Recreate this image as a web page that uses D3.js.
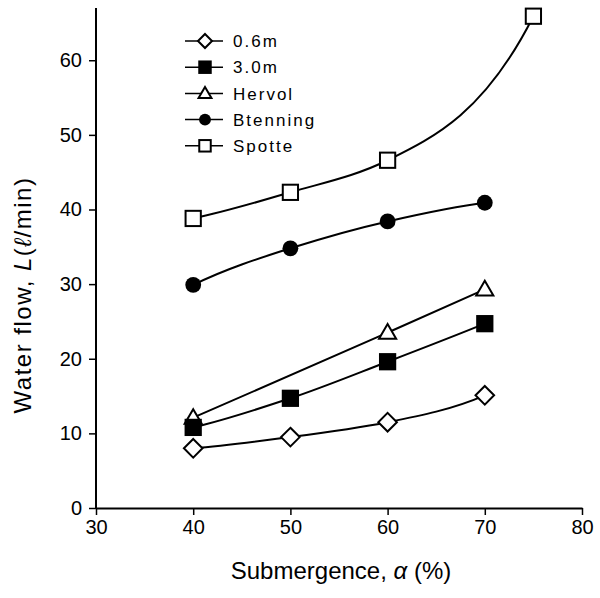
<!DOCTYPE html>
<html>
<head>
<meta charset="utf-8">
<script src="https://cdn.jsdelivr.net/npm/d3@7"></script>
<style>
  body { margin: 0; background: #fff; }
  svg { display: block; font-family: "Liberation Sans", Arial, sans-serif; }
</style>
</head>
<body>
<svg id="chart" width="600" height="598"></svg>
<script>
// submergence (%) and water flow (l/min) for each lift pipe
const names = ["0.6m", "3.0m", "Hervol", "Btenning", "Spotte"];
const subm06 = [40, 50, 60, 70],       flow06 = [8.0, 9.5, 11.5, 15.1];
const subm30 = [40, 50, 60, 70],       flow30 = [10.8, 14.7, 19.6, 24.7];
const submHervol = [40, 60, 70],       flowHervol = [12.1, 23.5, 29.3];
const submBtenning = [40, 50, 60, 70], flowBtenning = [29.9, 34.8, 38.4, 40.9];
const submSpotte = [40, 50, 60, 75],   flowSpotte = [38.8, 42.3, 46.6, 65.9];
const xTicks = [30, 40, 50, 60, 70, 80];
const yTicks = [0, 10, 20, 30, 40, 50, 60];

const markers = ["diamond", "squareFill", "triangle", "circle", "square"];
const series = [
  [subm06, flow06], [subm30, flow30], [submHervol, flowHervol],
  [submBtenning, flowBtenning], [submSpotte, flowSpotte]
].map(([xs, ys], i) => ({
  name: names[i], marker: markers[i],
  values: xs.map((x, j) => ({ x, y: ys[j] }))
}));

// Hermite curve: harmonic-mean tangents inside, curvature pushed to the ends
function CurveSmooth(context) { this._context = context; }
CurveSmooth.prototype = {
  areaStart() { this._line = 0; },
  areaEnd() { this._line = NaN; },
  lineStart() { this._x = []; this._y = []; },
  point(x, y) { this._x.push(+x); this._y.push(+y); },
  lineEnd() {
    const X = this._x, Y = this._y, n = X.length, c = this._context;
    if (!n) return;
    c.moveTo(X[0], Y[0]);
    if (n < 2) return;
    const s = [], m = [];
    for (let i = 0; i < n - 1; i++) s.push((Y[i + 1] - Y[i]) / (X[i + 1] - X[i]));
    for (let i = 1; i < n - 1; i++) {
      m[i] = s[i - 1] * s[i] > 0 ? 2 * s[i - 1] * s[i] / (s[i - 1] + s[i]) : 0;
    }
    m[0] = n > 2 ? 3 * s[0] - 2 * m[1] : s[0];
    m[n - 1] = n > 2 ? 3 * s[n - 2] - 2 * m[n - 2] : s[0];
    for (let i = 0; i < n - 1; i++) {
      const h = (X[i + 1] - X[i]) / 3;
      c.bezierCurveTo(X[i] + h, Y[i] + m[i] * h, X[i + 1] - h, Y[i + 1] - m[i + 1] * h, X[i + 1], Y[i + 1]);
    }
  }
};
const curveSmooth = context => new CurveSmooth(context);

const svg = d3.select("#chart");
const x = d3.scaleLinear().domain([30, 80]).range([96, 582]);
const y = d3.scaleLinear().domain([0, 67]).range([508, 8]);

// axes
const xAxis = svg.append("g").attr("transform", `translate(0,${y(0)})`)
  .call(d3.axisBottom(x).tickValues(xTicks).tickSize(7).tickSizeOuter(0).tickPadding(5));
const yAxis = svg.append("g").attr("transform", `translate(${x(30)},0)`)
  .call(d3.axisLeft(y).tickValues(yTicks).tickSize(7).tickSizeOuter(0).tickPadding(7));
[xAxis, yAxis].forEach(a => {
  a.select(".domain").attr("stroke", "#000").attr("stroke-width", 2);
  a.selectAll(".tick line").attr("stroke", "#000").attr("stroke-width", 1.5);
  a.selectAll(".tick text").attr("fill", "#000").style("font-size", "20px")
    .style("font-family", "'Liberation Sans', Arial, sans-serif");
});
// extend the y axis up to the top of the plot
yAxis.select(".domain").attr("d", `M0,${y(0)}V${y(67)}`);

// axis titles
svg.append("text")
  .attr("x", 341).attr("y", 579)
  .attr("text-anchor", "middle").style("font-size", "24px")
  .html('Submergence, <tspan font-style="italic">α</tspan> (%)');
svg.append("text")
  .attr("transform", "translate(31,295) rotate(-90)")
  .attr("text-anchor", "middle").style("font-size", "24px")
  .style("letter-spacing", "1.5px")
  .html('Water flow, <tspan font-style="italic">L</tspan>(<tspan font-style="italic">ℓ</tspan>/min)');

// smoothed lines
const line = d3.line().curve(curveSmooth)
  .x(d => x(d.x)).y(d => y(d.y));

svg.append("g").selectAll("path").data(series).join("path")
  .attr("fill", "none").attr("stroke", "#000").attr("stroke-width", 2)
  .attr("d", d => line(d.values));

function drawMarker(g, type, s) {
  if (type === "diamond") {
    g.append("path").attr("d", `M0,${-s}L${s},0L0,${s}L${-s},0Z`)
      .attr("fill", "#fff").attr("stroke", "#000").attr("stroke-width", 2);
  } else if (type === "square" || type === "squareFill") {
    const h = s * 0.82;
    g.append("rect").attr("x", -h).attr("y", -h).attr("width", 2 * h).attr("height", 2 * h)
      .attr("fill", type === "square" ? "#fff" : "#000")
      .attr("stroke", "#000").attr("stroke-width", 2);
  } else if (type === "triangle") {
    const h = s * 0.92;
    g.append("path").attr("d", `M0,${-h}L${h},${h * 0.72}L${-h},${h * 0.72}Z`)
      .attr("fill", "#fff").attr("stroke", "#000").attr("stroke-width", 2);
  } else {
    g.append("circle").attr("r", s * 0.85).attr("fill", "#000");
  }
}

// point markers, drawn top series first so the lower ones stay on top
series.slice().reverse().forEach(s => {
  s.values.forEach(d => {
    const g = svg.append("g").attr("transform", `translate(${x(d.x)},${y(d.y)})`);
    drawMarker(g, s.marker, 9.3);
  });
});

// legend
const legend = svg.append("g").attr("transform", "translate(185,41)");
series.forEach((s, i) => {
  const row = legend.append("g").attr("transform", `translate(0,${i * 26.2})`);
  row.append("line").attr("x1", 0).attr("x2", 38)
    .attr("stroke", "#000").attr("stroke-width", 1.5);
  drawMarker(row.append("g").attr("transform", "translate(20,0)"), s.marker, 7);
  row.append("text").attr("x", 48).attr("dy", "0.36em")
    .style("font-size", "17px").style("letter-spacing", "2px")
    .text(s.name);
});
</script>
</body>
</html>
